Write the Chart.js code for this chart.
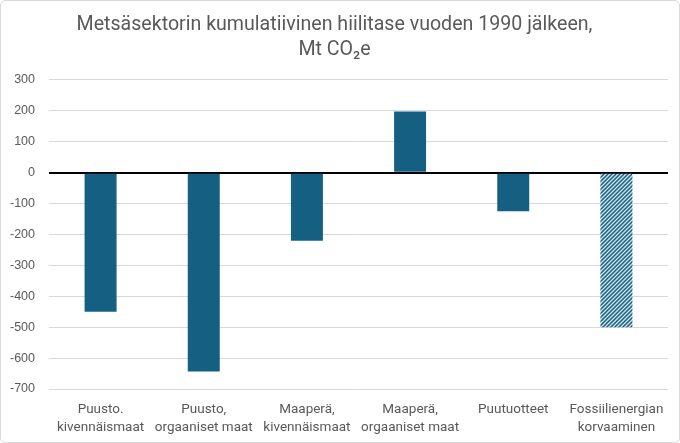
<!DOCTYPE html>
<html>
<head>
<meta charset="utf-8">
<script src="https://cdn.jsdelivr.net/npm/chart.js@4"></script>
<style>
html,body{margin:0;padding:0;background:#fff;}
#wrap{position:absolute;left:0;top:0;width:678px;height:441px;border:1px solid #d9d9d9;border-radius:5px;overflow:hidden;}
canvas{display:block;}
</style>
</head>
<body>
<div id="wrap"><canvas id="c" width="678" height="441"></canvas></div>
<script>
const categories = [
  ["Puusto.", "kivennäismaat"],
  ["Puusto,", "orgaaniset maat"],
  ["Maaperä,", "kivennäismaat"],
  ["Maaperä,", "orgaaniset maat"],
  ["Puutuotteet"],
  ["Fossiilienergian", "korvaaminen"]
];
const values = [-450, -643, -220, 198, -125, -500];
const hatched = [false, false, false, false, false, true];
const titleLines = ["Metsäsektorin kumulatiivinen hiilitase vuoden 1990 jälkeen,", "Mt CO₂e"];
const yMin = -700, yMax = 300, yStep = 100;

const BAR = '#156082';
function makeHatch(){
  const p = document.createElement('canvas');
  p.width = 4; p.height = 4;
  const g = p.getContext('2d');
  g.fillStyle = '#d3e4ee';
  g.fillRect(0,0,4,4);
  g.strokeStyle = BAR;
  g.lineWidth = 1.5;
  g.beginPath();
  g.moveTo(-1,5); g.lineTo(5,-1);
  g.moveTo(-1,1); g.lineTo(1,-1);
  g.moveTo(3,5); g.lineTo(5,3);
  g.stroke();
  return g.createPattern(p,'repeat');
}
const ctx = document.getElementById('c').getContext('2d');
const hatch = makeHatch();
const colors = hatched.map(h => h ? hatch : BAR);

new Chart(ctx, {
  type: 'bar',
  data: {
    labels: categories,
    datasets: [{
      data: values,
      backgroundColor: colors,
      borderWidth: 0,
      barPercentage: 0.31,
      categoryPercentage: 1.0
    }]
  },
  options: {
    responsive: false,
    animation: false,
    devicePixelRatio: 1,
    layout: { padding: { left: 0, right: 11, top: 0, bottom: 5 } },
    plugins: {
      legend: { display: false },
      tooltip: { enabled: false },
      title: {
        display: true,
        text: titleLines,
        color: '#595959',
        font: { family: "Roboto, sans-serif", size: 19.6, weight: 'normal', lineHeight: 1.3 },
        padding: { top: 11, bottom: 17 }
      }
    },
    scales: {
      x: {
        grid: { display: false, drawTicks: false },
        border: { display: false },
        ticks: {
          color: '#595959',
          font: { family: "Roboto, sans-serif", size: 13.5, lineHeight: 1.3 },
          padding: 12,
          maxRotation: 0,
          autoSkip: false
        },
        afterFit: s => { s.height = 48; }
      },
      y: {
        min: yMin, max: yMax,
        grid: {
          drawTicks: false,
          color: c => c.tick && c.tick.value === 0 ? '#000000' : '#d9d9d9',
          lineWidth: c => c.tick && c.tick.value === 0 ? 2 : 1
        },
        border: { display: false },
        ticks: {
          stepSize: yStep,
          color: '#595959',
          font: { family: "'Liberation Sans', Arial, sans-serif", size: 12.5 },
          padding: 14
        },
        afterFit: s => { s.width = 48; }
      }
    }
  }
});
</script>
</body>
</html>
